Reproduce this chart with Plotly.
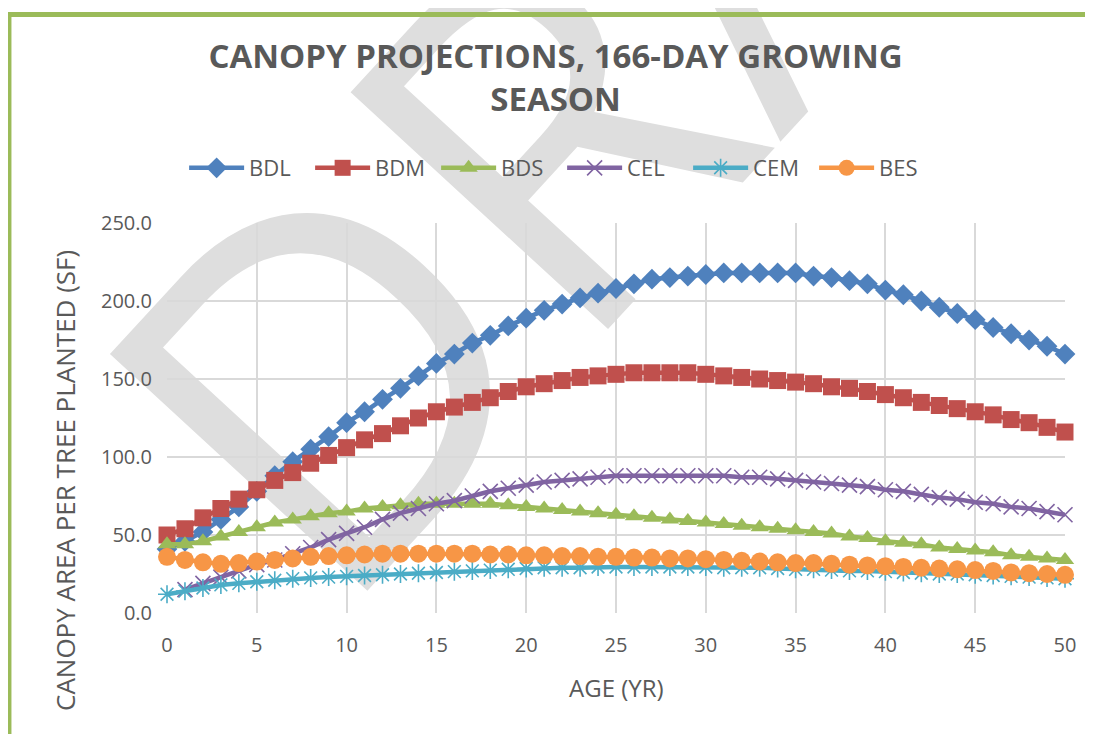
import plotly.graph_objects as go

# age in years
age = list(range(0, 51))

# canopy area per tree planted (sf)
bdl = [41, 46, 52, 60, 68, 78, 88, 97, 105, 113, 122, 129, 137, 144, 152, 160, 166, 173, 178, 184,
       189, 194, 198, 202, 205, 208, 211, 214, 215, 216, 217, 218, 218, 218, 218, 218, 216, 215, 213, 211,
       207, 204, 200, 196, 192, 188, 183, 179, 175, 171, 166]
bdm = [50, 54, 61, 67, 73, 79, 85, 90, 96, 101, 106, 111, 115, 120, 125, 129, 132, 135, 138, 142,
       145, 147, 149, 151, 152, 153, 154, 154, 154, 154, 153, 152, 151, 150, 149, 148, 147, 145, 144, 142,
       140, 138, 135, 133, 131, 129, 127, 124, 122, 119, 116]
bds = [44, 44, 46, 49, 52, 55, 58, 60, 62, 64, 65, 67, 68, 69, 70, 70, 70, 70, 70, 69,
       68, 67, 66, 65, 64, 63, 62, 61, 60, 59, 58, 57, 56, 55, 54, 53, 52, 51, 49, 48,
       46, 45, 44, 42, 41, 40, 39, 37, 36, 35, 34]
cel = [None, 15, 19, 23, 27, 31, 34, 38, 42, 47, 51, 55, 60, 64, 67, 70, 72, 75, 78, 80,
       82, 84, 85, 86, 87, 88, 88, 88, 88, 88, 88, 88, 87, 87, 86, 85, 84, 83, 82, 81,
       79, 78, 76, 74, 73, 71, 70, 68, 67, 65, 63]
cem = [12, 14, 16, 18, 19, 20, 21, 22, 22.5, 23, 23.5, 24, 24.5, 25, 25.5, 26, 26.5, 27, 27.5, 28,
       28.5, 29, 29, 29, 29.5, 29.5, 29.5, 29.5, 29.5, 29.5, 29.5, 29, 29, 29, 28.5, 28, 28, 27.5, 27, 27,
       26.5, 26, 25.5, 25, 25, 24.5, 24, 23.5, 23, 22.5, 22]
bes = [36, 34, 32.5, 31.5, 32, 33, 34, 35, 36, 36.5, 37, 37.5, 38, 38, 38, 38, 38, 38, 37.5, 37.5,
       37, 37, 36.5, 36.5, 36, 36, 35.5, 35.5, 35, 35, 34.5, 34, 33.5, 33, 32.5, 32, 32, 31.5, 31, 30.5,
       30, 29.5, 29, 28.5, 28, 27.5, 27, 26, 25.5, 25, 24.5]

gray = "#595959"
font_name = "Open Sans"

fig = go.Figure()

# (name, values, colour, symbol, size, outline width)
series = [
    ("BDL", bdl, "#4F81BD", "diamond", 16, 0),
    ("BDM", bdm, "#C0504D", "square", 17, 0),
    ("BDS", bds, "#9BBB59", "triangle-up", 16, 0),
    ("CEL", cel, "#8064A2", "x-thin-open", 15, 1.6),
    ("CEM", cem, "#4BACC6", "asterisk-open", 15, 1.6),
    ("BES", bes, "#F79646", "circle", 18, 0),
]

for name, vals, col, sym, size, lw in series:
    fig.add_trace(go.Scatter(
        x=age, y=vals, name=name, mode="lines+markers",
        line=dict(color=col, width=4.5),
        marker=dict(symbol=sym, size=size, color=col, line=dict(color=col, width=lw)),
        cliponaxis=False,
    ))

# big grey DRAFT watermark behind everything (shape label so it can sit below the traces)
fig.add_shape(
    type="rect", xref="paper", yref="paper", x0=0.620, x1=0.622, y0=1.643, y1=1.645,
    line=dict(width=0), fillcolor="rgba(0,0,0,0)", layer="below",
    label=dict(text="DRAFT", textangle=-47.4, textposition="middle center",
               font=dict(family=font_name, size=490, color="#DEDEDE")),
)

# axis titles as annotations so they can sit where the original has them
fig.add_annotation(
    text="CANOPY AREA PER TREE PLANTED (SF)", textangle=-90,
    xref="paper", yref="paper", x=-0.1136, y=0.341, xanchor="center", yanchor="middle",
    showarrow=False, font=dict(family=font_name, size=26, color=gray),
)
fig.add_annotation(
    text="AGE (YR)", xref="paper", yref="paper", x=0.5, y=-0.192,
    xanchor="center", yanchor="middle",
    showarrow=False, font=dict(family=font_name, size=24, color=gray),
)

# green frame round the chart
frame = "#9BBB59"
fig.add_shape(type="line", xref="paper", yref="paper", x0=-0.18, x1=1.05, y0=1.5346, y1=1.5346,
              line=dict(color=frame, width=5))
fig.add_shape(type="line", xref="paper", yref="paper", x0=-0.176, x1=-0.176, y0=1.5346, y1=-0.4,
              line=dict(color=frame, width=5))

fig.update_layout(
    width=1093, height=734,
    margin=dict(l=159, r=36, t=215, b=129),
    paper_bgcolor="white", plot_bgcolor="rgba(0,0,0,0)",
    font=dict(family=font_name, color=gray),
    title=dict(
        text="<b>CANOPY PROJECTIONS, 166-DAY GROWING<br>SEASON</b>",
        x=0.501, xanchor="center", xref="container",
        y=1 - 60 / 734, yanchor="top", yref="container",
        font=dict(family=font_name, size=33, color=gray),
    ),
    legend=dict(
        orientation="h", x=0.44, xanchor="center", y=1.141, yanchor="middle",
        font=dict(family=font_name, size=22, color=gray),
        itemwidth=55, entrywidth=56, bgcolor="rgba(0,0,0,0)",
    ),
    xaxis=dict(
        range=[0, 50], dtick=5, tick0=0,
        showgrid=True, gridcolor="#D9D9D9", gridwidth=1.5,
        zeroline=False, showline=False, ticks="", ticklabelstandoff=18,
        tickfont=dict(family=font_name, size=20, color=gray),
    ),
    yaxis=dict(
        range=[0, 250], dtick=50, tickformat=".1f",
        showgrid=True, gridcolor="#D9D9D9", gridwidth=1.5,
        zeroline=False, showline=False, ticks="", ticklabelstandoff=14,
        tickfont=dict(family=font_name, size=20, color=gray),
    ),
)

fig.write_html("out.html")
